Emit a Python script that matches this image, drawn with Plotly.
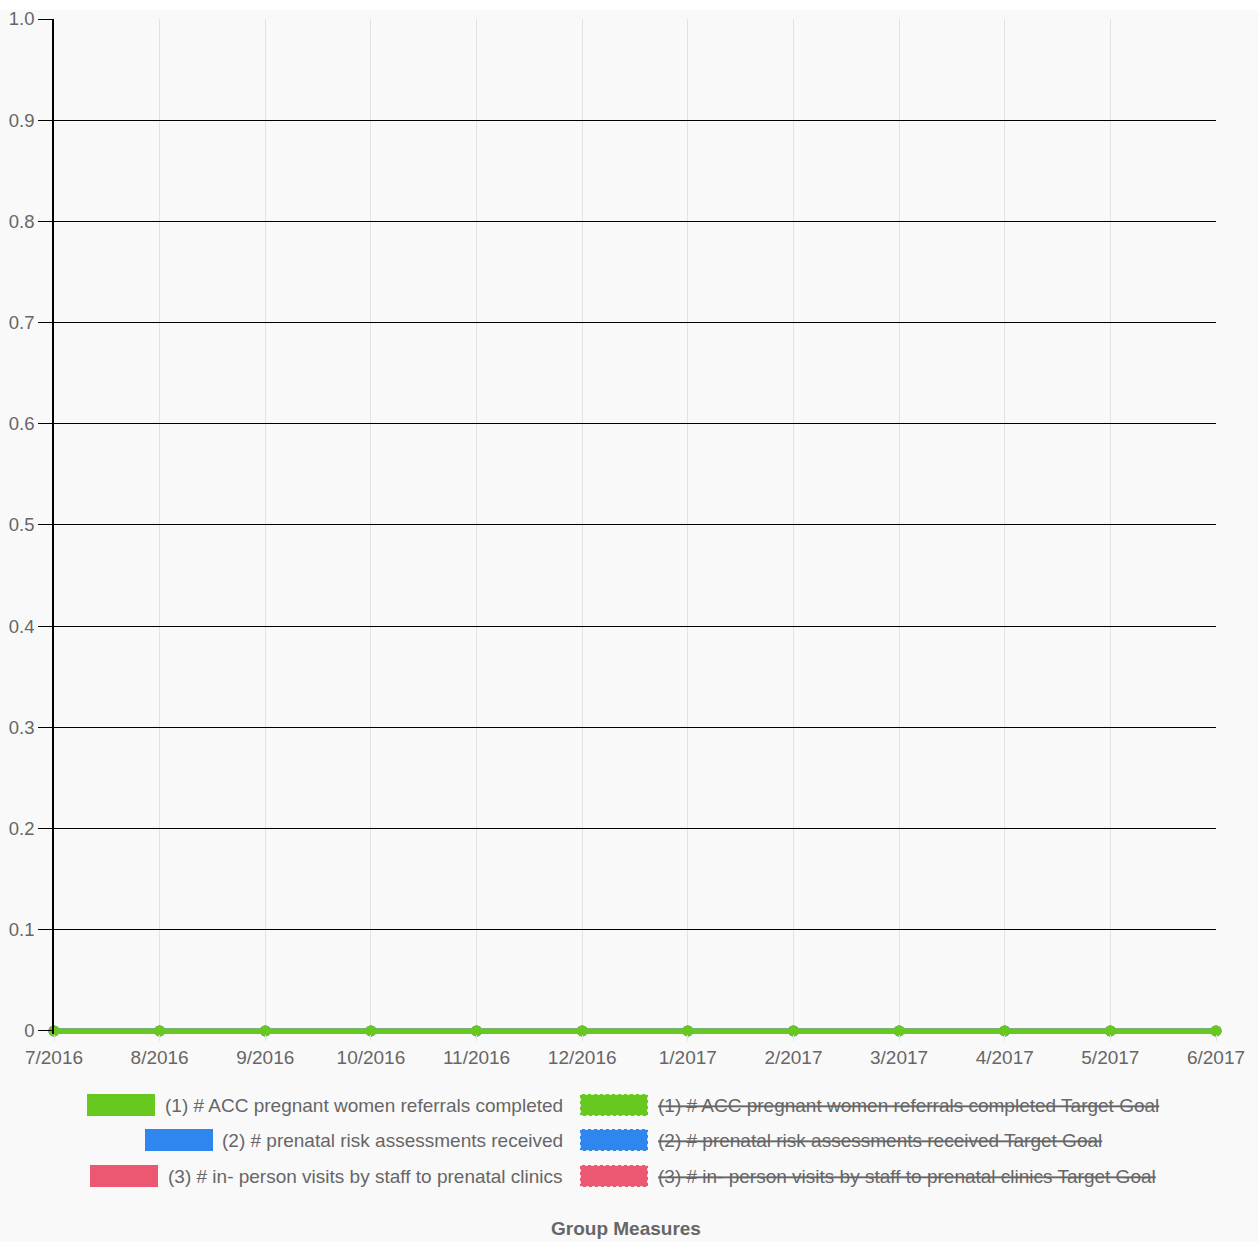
import plotly.graph_objects as go

months = ["7/2016", "8/2016", "9/2016", "10/2016", "11/2016", "12/2016",
          "1/2017", "2/2017", "3/2017", "4/2017", "5/2017", "6/2017"]
series_names = [
    "(1) # ACC pregnant women referrals completed",
    "(2) # prenatal risk assessments received",
    "(3) # in- person visits by staff to prenatal clinics",
]
referrals = [0, 0, 0, 0, 0, 0, 0, 0, 0, 0, 0, 0]
assessments = [0, 0, 0, 0, 0, 0, 0, 0, 0, 0, 0, 0]
visits = [0, 0, 0, 0, 0, 0, 0, 0, 0, 0, 0, 0]
target_referrals = [None] * 12
target_assessments = [None] * 12
target_visits = [None] * 12
y_ticks = [0, 0.1, 0.2, 0.3, 0.4, 0.5, 0.6, 0.7, 0.8, 0.9, 1.0]
y_tick_labels = ["0", "0.1", "0.2", "0.3", "0.4", "0.5", "0.6", "0.7", "0.8", "0.9", "1.0"]
axis_title = "Group Measures"

colors = ["#67c91f", "#2f86ef", "#ec5872"]
FONT = "Liberation Sans, Arial, sans-serif"
W, H = 1258, 1242
L, R, T, B = 54, 42, 19, 208

fig = go.Figure()
values = [referrals, assessments, visits]
targets = [target_referrals, target_assessments, target_visits]
# draw in reverse so the first series ends up on top
for i in [2, 1, 0]:
    fig.add_trace(go.Scatter(
        x=months, y=values[i], name=series_names[i], mode="lines+markers",
        line=dict(color=colors[i], width=5),
        marker=dict(color=colors[i], size=11),
        cliponaxis=False,
        showlegend=False, hoverinfo="skip"))
for i in range(3):
    fig.add_trace(go.Scatter(
        x=months, y=targets[i], name=series_names[i] + " Target Goal",
        mode="lines", line=dict(color=colors[i], dash="dash"),
        visible=False, showlegend=False))

fig.update_layout(
    width=W, height=H,
    margin=dict(l=L, r=R, t=T, b=B, pad=0),
    paper_bgcolor="#f9f9f9", plot_bgcolor="#f9f9f9",
    font=dict(family=FONT, size=19, color="#666666"),
    showlegend=False,
    xaxis=dict(
        type="category", range=[0, len(months) - 1], automargin=False,
        showgrid=True, gridcolor="#e2e2e2", gridwidth=1,
        ticks="outside", ticklen=6, tickcolor="#e2e2e2",
        showline=False, zeroline=False,
        tickfont=dict(family=FONT, size=19, color="#666666"),
    ),
    yaxis=dict(
        range=[-0.003, 1.0], tickvals=y_ticks, ticktext=y_tick_labels, automargin=False,
        showgrid=True, gridcolor="#000000", gridwidth=1,
        ticks="outside", ticklen=14, tickcolor="#000000", tickwidth=1,
        showline=True, linecolor="#000000", linewidth=1.5,
        zeroline=False,
        tickfont=dict(family=FONT, size=18.5, color="#666666"),
    ),
)

shapes = []
annotations = []
pw = W - L - R
ph = H - T - B


def px_x(x):
    return (x - L) / pw


def px_y(y):
    return (H - B - y) / ph


# white strip at the very top of the page
shapes.append(dict(type="rect", xref="paper", yref="paper",
                   x0=px_x(0), x1=px_x(W), y0=px_y(10), y1=px_y(0),
                   fillcolor="#ffffff", line=dict(width=0), layer="below"))

row_y = [1105, 1140, 1176]
solid_x0 = [87, 145, 90]
text_right = 565
dash_x0 = 580
box_w, box_h = 68, 22
for i in range(3):
    yc = row_y[i]
    shapes.append(dict(type="rect", xref="paper", yref="paper",
                       x0=px_x(solid_x0[i]), x1=px_x(solid_x0[i] + box_w),
                       y0=px_y(yc + box_h / 2), y1=px_y(yc - box_h / 2),
                       fillcolor=colors[i], line=dict(width=0)))
    annotations.append(dict(xref="paper", yref="paper", x=px_x(text_right), y=px_y(yc),
                            xanchor="right", yanchor="middle", showarrow=False,
                            text=series_names[i],
                            font=dict(family=FONT, size=19, color="#666666")))
    shapes.append(dict(type="rect", xref="paper", yref="paper",
                       x0=px_x(dash_x0), x1=px_x(dash_x0 + box_w),
                       y0=px_y(yc + box_h / 2), y1=px_y(yc - box_h / 2),
                       fillcolor=colors[i], line=dict(width=1.5, color="#ffffff", dash="dot")))
    annotations.append(dict(xref="paper", yref="paper", x=px_x(656), y=px_y(yc),
                            xanchor="left", yanchor="middle", showarrow=False,
                            text="<s>" + series_names[i] + " Target Goal</s>",
                            font=dict(family=FONT, size=19, color="#666666")))

annotations.append(dict(xref="paper", yref="paper", x=px_x(626), y=px_y(1228),
                        xanchor="center", yanchor="middle", showarrow=False,
                        text="<b>" + axis_title + "</b>",
                        font=dict(family=FONT, size=19, color="#666666")))

fig.update_layout(shapes=shapes, annotations=annotations)
fig.write_html("out.html", config={"displayModeBar": False},
               post_script="document.body.style.margin='0';document.body.style.overflow='hidden';")
